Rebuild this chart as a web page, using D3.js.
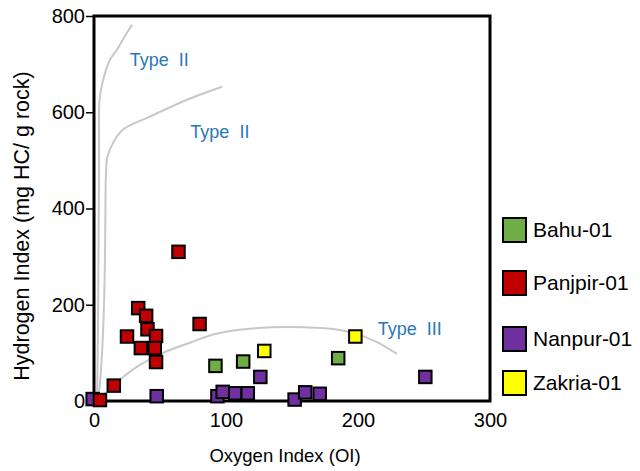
<!DOCTYPE html>
<html>
<head>
<meta charset="utf-8">
<script src="https://cdn.jsdelivr.net/npm/d3@7"></script>
<style>
  html, body { margin: 0; padding: 0; background: #fff; }
  svg { display: block; font-family: "Liberation Sans", Arial, sans-serif; }
</style>
</head>
<body>
<svg id="chart" width="640" height="471"></svg>
<script>
// Rock-Eval pseudo Van Krevelen diagram: HI vs OI
const xTicks = [0, 100, 200, 300];
const yTicks = [0, 200, 400, 600, 800];

const wells = ["Bahu-01", "Panjpir-01", "Nanpur-01", "Zakria-01"];
const wellColors = ["#70ad47", "#c00000", "#7030a0", "#ffff00"];

// [OI, HI] pairs per well
const nanpur = [[-1, 4], [47.5, 10], [93.5, 10], [97.5, 19], [107, 16], [116.5, 16],
                [126, 50], [152, 3], [160, 18], [171, 15], [251, 50]];
const bahu = [[92, 73], [113, 82], [185, 89]];
const zakria = [[129, 104], [198, 134]];
const panjpir = [[4.5, 2], [15, 32], [64, 310], [80, 160], [33.5, 193], [39.5, 177],
                 [40.5, 149], [47, 135], [25, 134], [35.5, 110], [46, 110], [47, 81]];

// Kerogen type boundary curves, [OI, HI]
const curveTypeI = [[2.3, 2], [3, 148], [3.4, 314], [3.8, 460], [3.8, 563], [4.2, 626],
                    [7, 668], [12.1, 709], [17.4, 730], [22.7, 755], [28.8, 782]];
const curveTypeII = [[3.4, 6], [5.3, 64], [7.2, 168], [8.3, 293], [8.7, 418], [9.1, 474],
                     [10.1, 507], [14.6, 537], [22, 564], [42.4, 591], [70.5, 626], [97, 653]];
const curveTypeIII = [[2.3, 2], [12.1, 25], [22, 50], [34.8, 75], [52.3, 100], [72.7, 121],
                      [90.2, 138], [110, 148], [135, 153], [160, 153], [180, 150],
                      [198, 140], [214, 123], [229.5, 98]];

const typeLabels = [
  { text: "Type\u00a0\u00a0II", x: 27, y: 710 },
  { text: "Type\u00a0\u00a0II", x: 73, y: 560 },
  { text: "Type\u00a0\u00a0III", x: 215, y: 150 }
];

const svg = d3.select("#chart");
const x = d3.scaleLinear().domain([0, 300]).range([94, 490]);
const y = d3.scaleLinear().domain([0, 800]).range([401, 16]);

// boundary curves
const line = d3.line().x(d => x(d[0])).y(d => y(d[1])).curve(d3.curveCatmullRom.alpha(0.5));
svg.append("g").selectAll("path")
  .data([curveTypeI, curveTypeII, curveTypeIII])
  .join("path")
  .attr("d", line)
  .attr("fill", "none")
  .attr("stroke", "#c8c8c8")
  .attr("stroke-width", 2);

// type labels
svg.append("g").selectAll("text")
  .data(typeLabels)
  .join("text")
  .attr("x", d => x(d.x))
  .attr("y", d => y(d.y))
  .attr("dy", "0.35em")
  .attr("fill", "#2878b8")
  .attr("font-size", 18)
  .text(d => d.text);

// frame
svg.append("rect")
  .attr("x", x(0)).attr("y", y(800))
  .attr("width", x(300) - x(0)).attr("height", y(0) - y(800))
  .attr("fill", "none").attr("stroke", "#000").attr("stroke-width", 3);

// axes
const yAxis = svg.append("g")
  .attr("transform", `translate(${x(0)},0)`)
  .call(d3.axisLeft(y).tickValues(yTicks).tickFormat(d3.format("d")).tickSize(8).tickSizeOuter(0).tickPadding(1));
yAxis.select(".domain").remove();
yAxis.selectAll("line").attr("stroke", "#000").attr("stroke-width", 1.5);
yAxis.selectAll("text").attr("font-size", 20).attr("fill", "#000")
  .attr("font-family", "Liberation Sans, Arial, sans-serif");

const xAxis = svg.append("g")
  .attr("transform", `translate(0,${y(0)})`)
  .call(d3.axisBottom(x).tickValues(xTicks).tickFormat(d3.format("d")).tickSize(0).tickPadding(12));
xAxis.select(".domain").remove();
xAxis.selectAll("text").attr("font-size", 20).attr("fill", "#000")
  .attr("font-family", "Liberation Sans, Arial, sans-serif");

// axis titles
svg.append("text")
  .attr("x", 285).attr("y", 456).attr("dy", "0.35em")
  .attr("text-anchor", "middle").attr("font-size", 18.5)
  .text("Oxygen Index (OI)");
svg.append("text")
  .attr("transform", "translate(21,226) rotate(-90)")
  .attr("dy", "0.35em")
  .attr("text-anchor", "middle").attr("font-size", 21.5)
  .text("Hydrogen Index (mg HC/ g rock)");

// sample points
const S = 12.5;
const series = [
  { data: nanpur, color: wellColors[2] },
  { data: bahu, color: wellColors[0] },
  { data: zakria, color: wellColors[3] },
  { data: panjpir, color: wellColors[1] }
];
series.forEach(s => {
  svg.append("g").selectAll("rect")
    .data(s.data)
    .join("rect")
    .attr("x", d => x(d[0]) - S / 2)
    .attr("y", d => y(d[1]) - S / 2)
    .attr("width", S).attr("height", S)
    .attr("fill", s.color)
    .attr("stroke", "#000").attr("stroke-width", 2);
});

// legend
const legendY = [230, 283, 339, 383];
const legend = svg.append("g").selectAll("g")
  .data(wells)
  .join("g")
  .attr("transform", (d, i) => `translate(503,${legendY[i]})`);
legend.append("rect")
  .attr("x", 0).attr("y", -12).attr("width", 23).attr("height", 24)
  .attr("fill", (d, i) => wellColors[i])
  .attr("stroke", "#000").attr("stroke-width", 2);
legend.append("text")
  .attr("x", 30).attr("dy", "0.35em")
  .attr("font-size", 21)
  .text(d => d);
</script>
</body>
</html>
